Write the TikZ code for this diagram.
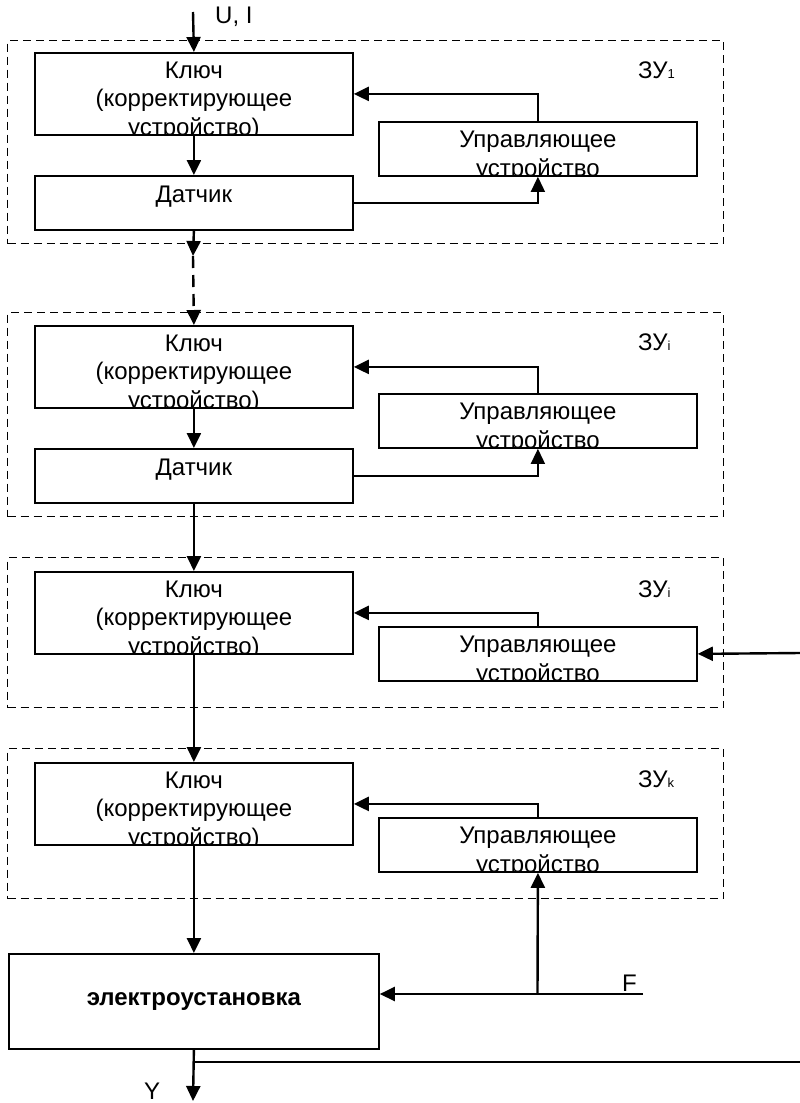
\documentclass[tikz,border=0pt]{standalone}
\usepackage{fontspec}
\setmainfont{Liberation Sans}
\usetikzlibrary{arrows.meta}
\newcommand\zsub[1]{{\fontsize{13}{13}\selectfont #1}}
\tikzset{
 fnt/.style={font=\fontsize{24}{28}\selectfont},
 ln/.style={fnt, anchor=base, inner sep=0pt},
 box/.style={draw, line width=1.8pt, rectangle, inner sep=0pt, anchor=north west, minimum width=318pt},
 keybox/.style={box, minimum height=82pt, path picture={
   \node[ln] at ([yshift=-26pt]path picture bounding box.north) {Ключ};
   \node[ln] at ([yshift=-54pt]path picture bounding box.north) {(корректирующее};
   \node[ln] at ([yshift=-83pt]path picture bounding box.north) {устройство)};}},
 ctrlbox/.style={box, minimum height=54pt, path picture={
   \node[ln] at ([yshift=-26pt]path picture bounding box.north) {Управляющее};
   \node[ln] at ([yshift=-55pt]path picture bounding box.north) {устройство};}},
 sensbox/.style={box, minimum height=54pt, path picture={
   \node[ln] at ([yshift=-27pt]path picture bounding box.north) {Датчик};}},
 zone/.style={draw, line width=1.4pt, dash pattern=on 8pt off 5pt, rectangle, inner sep=0pt, anchor=north west, minimum width=716pt},
 arr/.style={line width=2.4pt, -{Triangle[length=15pt,width=14pt]}},
 thinarr/.style={line width=1.4pt, -{Triangle[length=15pt,width=14pt]}},
 lbl/.style={fnt, anchor=base west, inner sep=0pt},
}
\begin{document}
\begin{tikzpicture}[x=1pt,y=-1pt]
\useasboundingbox (0,0) rectangle (800,1103);
% zones
\node[zone, minimum height=203pt] (z1) at (7,40) {};
\node[zone, minimum height=204pt] (z2) at (7,312) {};
\node[zone, minimum height=150pt] (z3) at (7,557) {};
\node[zone, minimum height=150pt] (z4) at (7,748) {};
% block 1
\node[keybox] (k1) at (34,52) {};
\node[ctrlbox] (c1) at (378,121) {};
\node[sensbox] (s1) at (34,175) {};
\node[lbl] (l1) at (638,78) {ЗУ\zsub{1}};
% block 2
\node[keybox] (k2) at (34,325) {};
\node[ctrlbox] (c2) at (378,393) {};
\node[sensbox] (s2) at (34,448) {};
\node[lbl] (l2) at (638,350) {ЗУ\zsub{i}};
% block 3
\node[keybox] (k3) at (34,571) {};
\node[ctrlbox] (c3) at (378,626) {};
\node[lbl] (l3) at (638,597) {ЗУ\zsub{i}};
% block 4
\node[keybox] (k4) at (34,762) {};
\node[ctrlbox] (c4) at (378,817) {};
\node[lbl] (l4) at (638,787) {ЗУ\zsub{k}};
% plant
\node[draw, line width=1.8pt, rectangle, inner sep=0pt, anchor=north west, minimum width=370pt, minimum height=95pt, font=\fontsize{24}{28}\selectfont\bfseries] (e) at (8,953) {электроустановка};
% input
\node[lbl] (ui) at (215,23) {U, I};
\coordinate (in) at (193,12);
\draw[arr] (in) -- (k1.north);
% block 1 connectors
\draw[arr] (k1.south) -- (s1.north);
\draw[arr] (c1.north) |- (k1.east);
\draw[thinarr] (s1.east) -| (c1.south);
\coordinate (m1) at (193,256);
\draw[arr] (s1.south) -- (m1);
\draw[arr, dash pattern=on 12pt off 7pt] (m1) -- (k2.north);
% block 2 connectors
\draw[arr] (k2.south) -- (s2.north);
\draw[arr] (c2.north) |- (k2.east);
\draw[thinarr] (s2.east) -| (c2.south);
\draw[arr] (s2.south) -- (k3.north);
% block 3 connectors
\draw[arr] (c3.north) |- (k3.east);
\coordinate (r3) at (800,653);
\draw[arr] (r3) -- (c3.east);
\draw[arr] (k3.south) -- (k4.north);
% block 4 connectors
\draw[arr] (c4.north) |- (k4.east);
\draw[arr] (k4.south) -- (e.north);
% F
\coordinate (f) at (643,994);
\coordinate (fb) at (537.5,994);
\draw[arr] (f) -- (f -| e.east);
\draw[arr] (fb) -- (c4.south);
\node[lbl] (fl) at (622,991) {F};
% Y
\coordinate (yend) at (193,1101);
\coordinate (yb) at (193,1062);
\coordinate (yr) at (800,1062);
\draw[arr] (e.south) -- (yend);
\draw[line width=2.4pt] (yb) -- (yr);
\node[lbl] (yl) at (144,1099) {Y};
\end{tikzpicture}
\end{document}
